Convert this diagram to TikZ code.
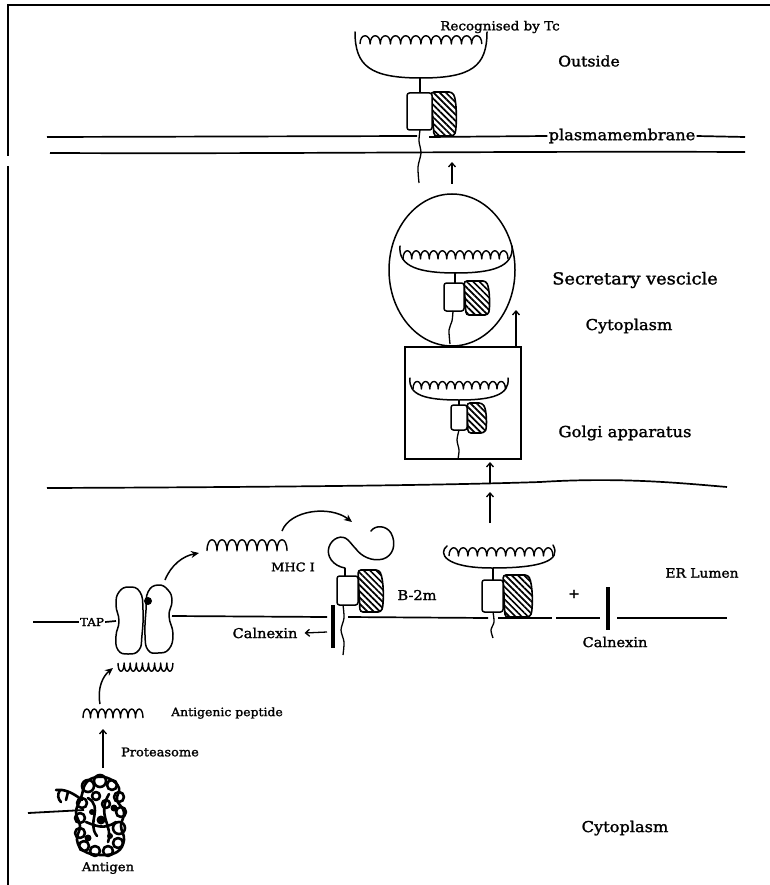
\documentclass[tikz,border=0pt]{standalone}
\usepackage{fontspec}
\setmainfont[FakeStretch=1.08, FakeBold=1.6]{DejaVu Serif}
\usetikzlibrary{arrows.meta,patterns.meta,shapes.geometric}

\tikzset{
  lab/.style={inner sep=1pt, font=\fontsize{#1pt}{#1pt}\selectfont},
  frame/.style={line width=1.8pt},
  mem/.style={line width=1.7pt},
  outl/.style={line width=1.5pt, line join=round, line cap=round},
  pep/.style={line width=1.4pt, line join=round},
  box/.style={line width=1.5pt, fill=white, rounded corners=2.5pt},
  hatchbox/.style={line width=1.6pt, rounded corners=3pt,
    pattern={Lines[angle=-45,distance=4.4pt,line width=1.7pt]}},
  stem/.style={line width=1.3pt},
  upar/.style={line width=1.3pt, -{Straight Barb[length=4pt,width=7pt]}},
  curvar/.style={line width=1.5pt, -{Stealth[length=8pt,width=7pt]}},
  blob/.style={line width=2.6pt, line join=round, line cap=round},
  calbar/.style={line width=4.5pt}
}

% a row of n arches of width #4 starting at (#1,#2); #5 sets their height
% (negative: arches point up, positive: they hang down)
\newcommand\arches[5]{%
  \draw[pep] (#1,#2) \foreach \i in {1,...,#3}
    { .. controls +(0,#5) and +(0,#5) .. ++(#4,0) };}

\begin{document}
\begin{tikzpicture}[x=1pt,y=-1pt]
\useasboundingbox (0,0) rectangle (770,885);

% ---------- page frame ----------
\draw[frame] (8,885) -- (8,166) (8,156) -- (8,5) -- (770,5);

% ---------- plasma membrane ----------
\node[lab=15] (pm) at (622,136) {plasmamembrane};
\draw[mem] (47,137) -- (417,136) (429,137) -- (pm.west);
\draw[mem] (pm.east) -- (745,137);
\draw[mem] (50,153) .. controls (300,154) and (500,151) .. (745,152);

% ---------- MHC I at the cell surface ----------
\node[lab=12.5] (rtc) at (500,27) {Recognised by Tc};
\node[lab=14.5] (outside) at (589,61) {Outside};
\draw[outl] (355,32) .. controls (355,66) and (370,78) .. (421,78)
                     .. controls (472,78) and (487,66) .. (487,32);
\arches{360}{44}{12}{10.15}{-11}
\draw[stem] (420,78) -- (420,93);
\draw[hatchbox] (431,92) -- (452,92) .. controls (457,100) and (457,128) .. (454,136) -- (434,136) -- cycle;
\draw[box] (407,93) rectangle (432,130);
\draw[stem] plot[smooth] coordinates {(420,130) (419,141) (421,153) (418,167) (419,183)};
\coordinate (pmA) at (452,184);
\coordinate (pmB) at (452,162);
\draw[upar] (pmA) -- (pmB);

% ---------- secretory vesicle ----------
\node[ellipse, draw, line width=1.5pt, minimum width=126pt, minimum height=152pt, inner sep=0pt] (ves) at (452,270) {};
\node[lab=16.5] (vesl) at (635,280) {Secretary vescicle};
\node[lab=15] (cyto1) at (629,326) {Cytoplasm};
\draw[outl] (400,246) .. controls (398,267) and (420,273) .. (456,273)
                     .. controls (492,273) and (514,267) .. (512,246);
\arches{403}{259}{12}{8.75}{-11}
\draw[stem] (455,273) -- (455,283);
\draw[hatchbox] (464,281) -- (486,281) .. controls (490,290) and (490,308) .. (488,315) -- (466,315) -- cycle;
\draw[box] (444,283) rectangle (464,311);
\draw[stem] plot[smooth] coordinates {(453,311) (452,321) (449,330) (450,344)};

% ---------- Golgi apparatus ----------
\node[draw, line width=1.5pt, minimum width=116pt, minimum height=112pt, inner sep=0pt] (golgi) at (463,403) {};
\node[lab=15.2] (golgil) at (625,433) {Golgi apparatus};
\draw[outl] (410,378) .. controls (408,395) and (425,400) .. (459,400)
                     .. controls (492,400) and (510,395) .. (508,378);
\arches{413}{389}{11}{8.4}{-10}
\draw[stem] (459,400) -- (459,405);
\draw[hatchbox] (467,403) -- (482,403) .. controls (487,410) and (487,428) .. (484,433) -- (468,433) -- cycle;
\draw[box] (451,405) rectangle (467,430);
\draw[stem] plot[smooth] coordinates {(459,430) (457,440) (459,450) (458,459)};
\coordinate (gvA) at (516,347);
\coordinate (gvB) at (516,310);
\draw[upar] (gvA) -- (gvB);

% ---------- ER membrane ----------
\draw[mem] (47,488) .. controls (300,487) and (450,485) .. (540,482)
                   .. controls (620,477) and (680,483) .. (727,487);
\coordinate (erA) at (490,483);
\coordinate (erB) at (490,462);
\coordinate (erC) at (490,523);
\coordinate (erD) at (490,492);
\draw[upar] (erA) -- (erB);
\draw[upar] (erC) -- (erD);

\node[lab=11] (tap) at (92,622) {TAP};
\draw[mem] (33,622) -- (tap.west);
\draw[mem] (tap.east) -- (116,621);
\draw[mem] (172,616) -- (327,617);
\draw[mem] (348,617) -- (488,618);
\draw[mem] (498,618) -- (552,618);
\draw[mem] (556,618) -- (600,618);
\draw[mem] (617,618) -- (727,618);

\node[lab=12.8] (erl) at (702,573) {ER Lumen};

% ---------- TAP transporter ----------
\draw[outl, fill=white] plot[smooth cycle, tension=0.8] coordinates
  {(129,587) (140,592) (143,610) (142,635) (139,650) (128,654) (118,650) (116,636) (119,621) (116,605) (119,592)};
\draw[outl, fill=white] plot[smooth cycle, tension=0.8] coordinates
  {(158,585) (168,590) (172,601) (169,616) (173,634) (169,649) (158,653) (148,650) (145,635) (146,610) (148,592)};
\fill (148,601) circle[radius=4];
\arches{118}{663}{9}{6.1}{11}

% ---------- peptide delivered to the empty MHC I ----------
\arches{207}{551}{8}{10}{-15}
\coordinate (tpA) at (165,580);
\coordinate (tpB) at (199,553);
\draw[curvar] (tpA) .. controls (171,565) and (183,556) .. (tpB);
\coordinate (mpA) at (282,531);
\coordinate (mpB) at (352,522);
\draw[curvar] (mpA) .. controls (290,510) and (330,505) .. (mpB);

% ---------- empty MHC I held by calnexin ----------
\node[lab=12] (mhc) at (293,567) {MHC I};
\node[lab=13.5] (b2m) at (417,595) {B-2m};
\draw[outl] (345,568) .. controls (333,566) and (326,556) .. (329,547)
                     .. controls (332,538) and (342,534) .. (348,540)
                     .. controls (351,543) and (353,546) .. (356,549)
                     .. controls (361,556) and (372,562) .. (383,559)
                     .. controls (393,556) and (397,544) .. (391,533)
                     .. controls (386,525) and (375,525) .. (371,531);
\draw[stem] (345,568) -- (345,576);
\draw[hatchbox] (358,570) -- (379,570) .. controls (384,580) and (384,604) .. (381,612) -- (360,612) -- cycle;
\draw[box] (337,576) rectangle (358,605);
\draw[stem] plot[smooth] coordinates {(343,605) (344,618) (341,630) (344,642) (343,655)};
\draw[calbar] (333,605) -- (333,648);
\node[lab=13.5] (cal1) at (265,633) {Calnexin};
\coordinate (calA) at (327,632);
\draw[upar] (calA) -- ([xshift=6pt]cal1.east);

% ---------- loaded MHC I and free calnexin ----------
\draw[outl] (447,546) .. controls (438,553) and (444,568) .. (492,568)
                     .. controls (540,568) and (562,561) .. (553,545);
\arches{449}{556}{11}{9.45}{-11}
\draw[stem] (493,568) -- (493,580);
\draw[hatchbox] (503,575) -- (528,575) .. controls (533,585) and (533,609) .. (530,617) -- (505,617) -- cycle;
\draw[box] (482,580) rectangle (503,612);
\draw[stem] plot[smooth] coordinates {(493,612) (494,622) (491,630) (493,638)};
\node[lab=13] (plus) at (574,594) {+};
\draw[calbar] (608,587) -- (608,630);
\node[lab=13.5] (cal2) at (615,642) {Calnexin};

% ---------- antigen processing in the cytoplasm ----------
\arches{83}{718}{8}{7.5}{-12}
\node[lab=11.5] (antp) at (227,713) {Antigenic peptide};
\coordinate (apA) at (100,704);
\coordinate (apB) at (113,668);
\draw[curvar] (apA) .. controls (97,688) and (103,676) .. (apB);
\coordinate (prA) at (103,768);
\coordinate (prB) at (103,729);
\draw[upar] (prA) -- (prB);
\node[lab=12] (prot) at (160,752) {Proteasome};

% antigen: a tangled polypeptide chain
\draw[blob] plot[smooth cycle, tension=0.7] coordinates
  {(86,783) (97,777) (110,779) (119,788) (117,800) (124,812) (121,826)
   (124,840) (117,852) (100,855) (84,851) (77,840) (80,826) (76,812) (81,798)};
\foreach \cx/\cy/\r in {88/786/6, 100/781/6, 112/785/5, 119/797/5, 121/812/5,
                        119/828/6, 118/843/5, 108/851/5, 95/851/5, 84/846/5,
                        80/833/5, 80/818/5, 82/803/5, 96/796/4, 106/804/4}
  \draw[blob] (\cx,\cy) circle[radius=\r];
\draw[blob] (88,798) .. controls (104,808) and (86,822) .. (97,836)
            (109,794) .. controls (96,816) and (114,826) .. (108,842)
            (86,822) .. controls (96,826) and (104,830) .. (116,822);
\fill (101,820) circle[radius=4.5] (88,838) circle[radius=3.5] (114,808) circle[radius=3.5]
      (92,812) circle[radius=3] (110,836) circle[radius=3];
\draw[blob] (82,800) .. controls (72,792) and (64,789) .. (56,790)
            (60,790) .. controls (57,795) and (58,799) .. (61,802)
            (68,792) -- (66,800);
\draw[line width=1.8pt] (28,813) -- (84,810);
\node[lab=12.2] (antigen) at (108,868) {Antigen};

\node[lab=15] (cyto2) at (625,828) {Cytoplasm};
\end{tikzpicture}
\end{document}
